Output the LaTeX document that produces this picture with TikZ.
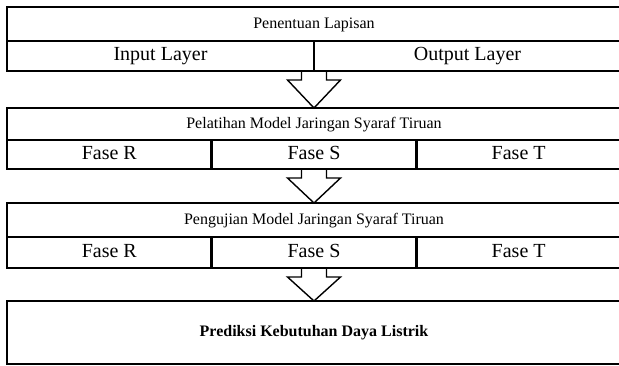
\documentclass[tikz,border=0pt]{standalone}
\usepackage{fontspec}
\setmainfont{Liberation Serif}
\usetikzlibrary{positioning}

\tikzset{
  judul/.style={draw, line width=2.6pt, inner sep=0pt, outer sep=0pt, minimum width=614pt, text height=11pt, text depth=3pt, font=\fontsize{16}{18}\selectfont},
  sel/.style={draw, line width=2.6pt, inner sep=0pt, outer sep=0pt, text height=13.5pt, text depth=4pt, font=\fontsize{20}{22}\selectfont},
  panah/.style={draw, line width=1.4pt, line join=miter},
}
\newcommand{\panahblok}[2]{%
  \draw[panah] ([xshift=-12.5pt]#1) -- ([xshift=-12.5pt,yshift=-9pt]#1)
    -- ([xshift=-26.5pt,yshift=-9pt]#1) -- (#2.north)
    -- ([xshift=26.5pt,yshift=-9pt]#1) -- ([xshift=12.5pt,yshift=-9pt]#1)
    -- ([xshift=12.5pt]#1);}

\begin{document}
\begin{tikzpicture}[x=1pt,y=1pt]
\useasboundingbox (0,0) rectangle (619,-365);

% penentuan lapisan
\node[judul, minimum height=34pt] (lapisan) at (314,-24) {Penentuan Lapisan};
\node[sel, minimum width=307pt, minimum height=30pt, below right=0pt and 0pt of lapisan.south west] (input) {Input Layer};
\node[sel, minimum width=307pt, minimum height=30pt, right=0pt of input] (output) {Output Layer};

% pelatihan
\node[judul, minimum height=32pt] (latih) at (314,-124) {Pelatihan Model Jaringan Syaraf Tiruan};
\node[sel, minimum width=204.67pt, minimum height=29pt, below right=0pt and 0pt of latih.south west] (latihR) {Fase R};
\node[sel, minimum width=204.67pt, minimum height=29pt, right=0pt of latihR] (latihS) {Fase S};
\node[sel, minimum width=204.67pt, minimum height=29pt, right=0pt of latihS] (latihT) {Fase T};

% pengujian
\node[judul, minimum height=34pt] (uji) at (314,-220) {Pengujian Model Jaringan Syaraf Tiruan};
\node[sel, minimum width=204.67pt, minimum height=31pt, below right=0pt and 0pt of uji.south west] (ujiR) {Fase R};
\node[sel, minimum width=204.67pt, minimum height=31pt, right=0pt of ujiR] (ujiS) {Fase S};
\node[sel, minimum width=204.67pt, minimum height=31pt, right=0pt of ujiS] (ujiT) {Fase T};

% prediksi
\node[judul, minimum height=63pt] (prediksi) at (314,-332.5) {\textbf{Prediksi Kebutuhan Daya Listrik}};

% panah
\panahblok{input.south east}{latih}
\panahblok{latihS.south}{uji}
\panahblok{ujiS.south}{prediksi}

\end{tikzpicture}
\end{document}
